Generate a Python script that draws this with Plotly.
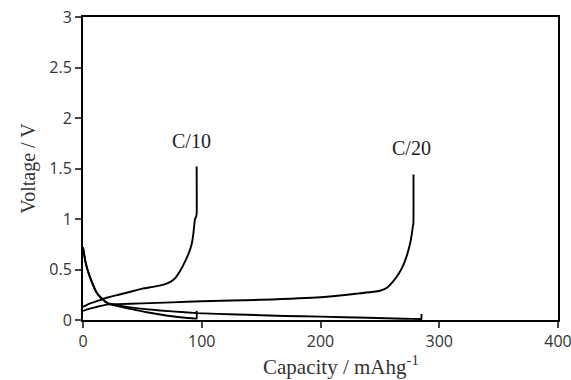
import plotly.graph_objects as go

# C/10 charge
c10_charge_x = [0, 5, 10, 20, 30, 40, 50, 60, 68, 74, 78, 82, 86, 89, 91.5, 93, 94.3, 95.2, 95.7, 95.7]
c10_charge_v = [0.13, 0.16, 0.18, 0.22, 0.25, 0.28, 0.31, 0.33, 0.35, 0.38, 0.42, 0.49, 0.58, 0.66, 0.75, 0.86, 1.0, 1.02, 1.05, 1.52]
# C/10 discharge
c10_dis_x = [0, 2, 4.5, 8, 11.5, 16, 21, 30, 40, 50, 60, 70, 80, 88, 94, 95.7, 95.7]
c10_dis_v = [0.72, 0.58, 0.47, 0.36, 0.27, 0.21, 0.165, 0.135, 0.11, 0.085, 0.065, 0.045, 0.03, 0.02, 0.015, 0.015, 0.09]
# C/20 charge
c20_charge_x = [0, 5, 10, 15, 21, 30, 50, 75, 100, 150, 200, 230, 250, 256, 261, 266, 270, 273, 275.5, 277, 277.8, 278.2, 278.3]
c20_charge_v = [0.09, 0.11, 0.125, 0.14, 0.155, 0.157, 0.165, 0.175, 0.185, 0.2, 0.225, 0.26, 0.29, 0.32, 0.38, 0.46, 0.55, 0.65, 0.76, 0.86, 0.93, 0.95, 1.44]
# C/20 discharge
c20_dis_x = [0, 2, 4.5, 8, 11.5, 16, 21, 30, 40, 55, 75, 96, 130, 170, 200, 240, 270, 284, 285, 285]
c20_dis_v = [0.72, 0.58, 0.47, 0.36, 0.27, 0.21, 0.165, 0.145, 0.125, 0.105, 0.085, 0.068, 0.055, 0.04, 0.033, 0.022, 0.013, 0.01, 0.01, 0.06]

labels = ["C/10", "C/20"]
label_x = [91.5, 277]
label_v = [1.77, 1.70]

x_ticks = [0, 100, 200, 300, 400]
y_ticks = [0, 0.5, 1, 1.5, 2, 2.5, 3]
y_tick_text = ["0", "0.5", "1", "1.5", "2", "2.5", "3"]

x_title = "Capacity / mAhg<sup>-1</sup>"
y_title = "Voltage / V"

line = dict(color="black", width=1.9)
fig = go.Figure()
for xs, vs in [(c10_charge_x, c10_charge_v), (c10_dis_x, c10_dis_v),
               (c20_charge_x, c20_charge_v), (c20_dis_x, c20_dis_v)]:
    fig.add_trace(go.Scatter(x=xs, y=vs, mode="lines", line=dict(line, shape="spline", smoothing=0.4),
                             showlegend=False, hoverinfo="skip"))

for t, lx, lv in zip(labels, label_x, label_v):
    fig.add_annotation(x=lx, y=lv, text=t, showarrow=False,
                       font=dict(family="Liberation Serif", size=20, color="#222"))

# x-axis title (slightly right of centre, as in the reference)
fig.add_annotation(xref="paper", yref="paper", x=0.543, y=0, yanchor="middle", yshift=-45,
                   text=x_title, showarrow=False,
                   font=dict(family="Liberation Serif", size=21, color="#333"))

fig.update_layout(
    width=571, height=380,
    margin=dict(l=83, r=13, t=17, b=60),
    plot_bgcolor="white", paper_bgcolor="white",
    xaxis=dict(range=[0, 400], tickvals=x_ticks, ticks="outside", ticklen=6, tickwidth=1.5,
               showline=True, linecolor="black", linewidth=1.9, mirror=True, showgrid=False,
               zeroline=False, automargin=False, ticklabeloverflow="allow",
               tickfont=dict(family="Open Sans", size=16, color="#333")),
    yaxis=dict(range=[0, 3], tickvals=y_ticks, ticktext=y_tick_text, ticks="outside", ticklen=6,
               tickwidth=1.5, showline=True, linecolor="black", linewidth=1.9, mirror=True,
               showgrid=False, zeroline=False, automargin=False, ticklabeloverflow="allow",
               tickfont=dict(family="Open Sans", size=16, color="#333"),
               title=dict(text=y_title, standoff=8,
                          font=dict(family="Liberation Serif", size=20, color="#333"))),
)

fig.write_html("out.html", config={"displayModeBar": False},
               post_script="document.body.style.margin='0';document.body.style.overflow='hidden';")
